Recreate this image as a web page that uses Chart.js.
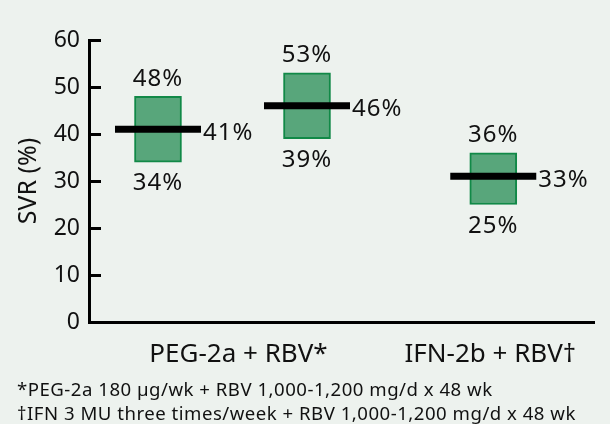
<!DOCTYPE html>
<html>
<head>
<meta charset="utf-8">
<script src="https://cdn.jsdelivr.net/npm/chart.js@4.4.0/dist/chart.umd.min.js"></script>
<style>
  body { margin: 0; background: #edf2ee; }
  #wrap { position: relative; width: 610px; height: 424px; }
  .note { position: absolute; left: 17px; top: 377px; font-family: "Noto Sans"; font-size: 18.6px; letter-spacing: 0.5px; line-height: 24px; color: #111; white-space: nowrap; }
</style>
</head>
<body>
<div id="wrap">
  <canvas id="chart"></canvas>
  <div class="note">*PEG-2a 180 µg/wk + RBV 1,000-1,200 mg/d x 48 wk<br>†IFN 3 MU three times/week + RBV 1,000-1,200 mg/d x 48 wk</div>
</div>
<script>
// box positions along x and the values
const xPos = [1, 2, 3.25];
const lowValues = [34, 39, 25];
const highValues = [48, 53, 36];
const medianValues = [41, 46, 31];
const medianLabels = [41, 46, 33];
const groupPos = [1.54, 3.23];
const groupLabels = ['PEG-2a + RBV*', 'IFN-2b + RBV†'];
const yMin = 0, yMax = 60, yStep = 10;

const textColor = '#111';
const fontFamily = 'Noto Sans';

// draws the % labels above, below and beside each box
const valueLabels = {
    id: 'valueLabels',
    afterDatasetsDraw(chart) {
        const ctx = chart.ctx;
        const boxes = chart.getDatasetMeta(0).data;
        const lines = chart.getDatasetMeta(1).data;
        ctx.save();
        ctx.fillStyle = textColor;
        ctx.font = '24px "' + fontFamily + '"';
        ctx.letterSpacing = '1px';
        ctx.textBaseline = 'alphabetic';
        ctx.textAlign = 'center';
        boxes.forEach((bar, i) => {
            ctx.fillText(highValues[i] + '%', bar.x, bar.y - 10.5);
            ctx.fillText(lowValues[i] + '%', bar.x, bar.base + 28);
        });
        ctx.textAlign = 'left';
        lines.forEach((pt, i) => {
            ctx.fillText(medianLabels[i] + '%', pt.x + pt.options.radius + 2, pt.y + 10.5);
        });
        ctx.restore();
    }
};

const boxData = xPos.map((x, i) => ({ x: x, y: [lowValues[i], highValues[i]] }));
const medianData = xPos.map((x, i) => ({ x: x, y: medianValues[i] }));

new Chart(document.getElementById('chart'), {
    type: 'bar',
    data: {
        datasets: [
            {
                data: boxData,
                backgroundColor: '#58a67b',
                borderColor: '#118947',
                borderWidth: 2,
                borderSkipped: false,
                barThickness: 47,
                order: 1
            },
            {
                type: 'line',
                data: medianData,
                showLine: false,
                pointStyle: 'line',
                pointRadius: 43,
                pointHoverRadius: 43,
                pointBorderWidth: 7,
                pointBorderColor: '#000',
                clip: false,
                order: 0
            }
        ]
    },
    options: {
        responsive: true,
        maintainAspectRatio: false,
        animation: false,
        layout: { autoPadding: false, padding: { top: 40, right: 16, left: 0, bottom: 0 } },
        plugins: { legend: { display: false }, tooltip: { enabled: false } },
        scales: {
            x: {
                type: 'linear',
                offset: false,
                min: 0.537,
                max: 3.926,
                afterBuildTicks: axis => { axis.ticks = groupPos.map(v => ({ value: v })); },
                afterFit: scale => { scale.height = 102; },
                grid: { display: false, offset: false },
                border: { display: true, width: 3, color: '#000' },
                ticks: {
                    callback: (v, i) => groupLabels[i],
                    font: { family: fontFamily, size: 26 },
                    color: textColor,
                    padding: 9,
                    maxRotation: 0,
                    autoSkip: false
                }
            },
            y: {
                min: yMin,
                max: yMax,
                afterFit: scale => { scale.width = 89; },
                ticks: {
                    stepSize: yStep,
                    font: { family: fontFamily, size: 23 },
                    color: textColor,
                    padding: 21
                },
                grid: { drawOnChartArea: false, tickLength: -12, tickWidth: 3, tickColor: '#000' },
                border: { width: 3, color: '#000' },
                title: {
                    display: true,
                    text: 'SVR (%)',
                    font: { family: fontFamily, size: 25 },
                    color: textColor,
                    padding: { top: 14, bottom: 0 }
                }
            }
        }
    },
    plugins: [valueLabels]
});
</script>
</body>
</html>
